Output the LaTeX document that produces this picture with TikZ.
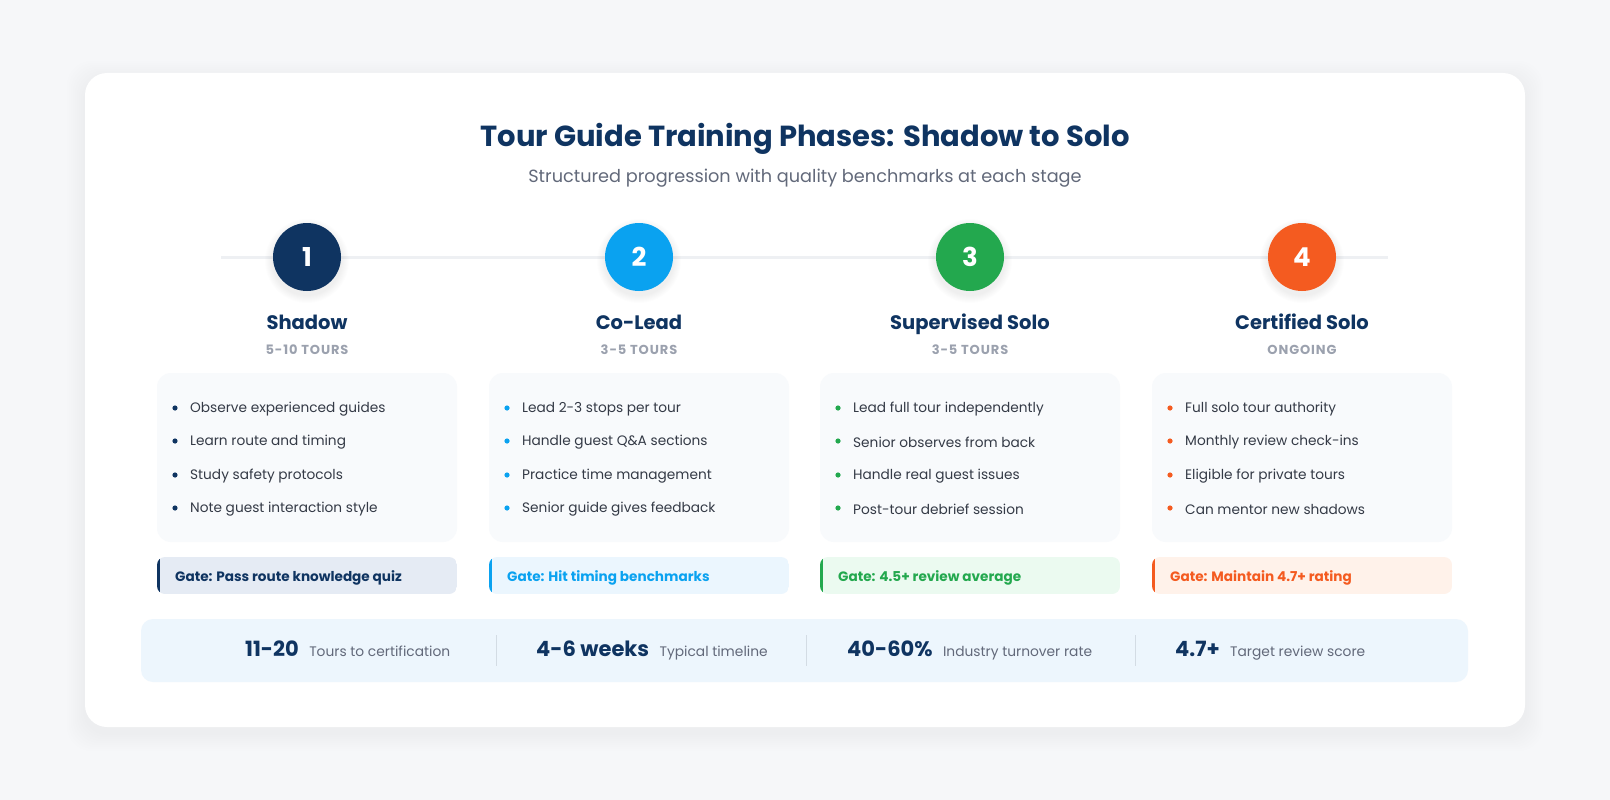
\documentclass[tikz,border=0pt]{standalone}
\usepackage{fontspec}
\setmainfont{Poppins}
\newfontfamily\trackedfont[LetterSpace=7]{Poppins}
\usetikzlibrary{positioning}

\definecolor{pagebg}{HTML}{F6F7F9}
\definecolor{navy}{HTML}{0F3461}
\definecolor{skyblue}{HTML}{0AA2F0}
\definecolor{leafgreen}{HTML}{23A84E}
\definecolor{flame}{HTML}{F45B20}
\definecolor{subgray}{HTML}{62697A}
\definecolor{tourgray}{HTML}{9BA1AE}
\definecolor{bodytext}{HTML}{343A46}
\definecolor{panelfill}{HTML}{F8FAFC}
\definecolor{statfill}{HTML}{EDF6FD}
\definecolor{rulegray}{HTML}{EEF0F3}
\definecolor{divgray}{HTML}{D3DCE4}
\definecolor{gatenavy}{HTML}{E5EBF4}
\definecolor{gateblue}{HTML}{EBF6FE}
\definecolor{gategreen}{HTML}{EBFAF0}
\definecolor{gateorange}{HTML}{FFF2EA}

\tikzset{
  phasenum/.style={circle, minimum size=68pt, inner sep=0pt, text=white,
    font=\fontsize{26}{28}\selectfont\bfseries},
  phasetitle/.style={anchor=base, text=navy, font=\fontsize{19.5}{22}\selectfont\bfseries},
  phasecount/.style={text=tourgray, font=\trackedfont\fontsize{13}{15}\selectfont\bfseries},
  panelbox/.style={fill=panelfill, rounded corners=14pt},
  itemtext/.style={anchor=west, inner sep=0pt, text=bodytext, font=\fontsize{13.7}{16}\selectfont},
  gatetext/.style={anchor=west, inner sep=0pt, font=\fontsize{13.6}{16}\selectfont\bfseries},
  statnum/.style={anchor=base west, inner sep=0pt, text=navy, font=\fontsize{21}{24}\selectfont\bfseries},
  statlabel/.style={inner sep=0pt, text=subgray, font=\fontsize{13.8}{16}\selectfont},
}

\begin{document}
\begin{tikzpicture}[x=1pt, y=-1pt]
\useasboundingbox (0,0) rectangle (1610,800);
\fill[pagebg] (0,0) rectangle (1610,800);

% card with soft shadow
\foreach \s in {2,4,...,18}
  \fill[black, opacity=0.004, rounded corners=24pt] (85-\s,79-\s) rectangle (1525+\s,733+\s);
\fill[white, rounded corners=22pt] (85,73) rectangle (1525,727);

% heading
\node[text=navy, font=\fontsize{29}{33}\selectfont\bfseries] (title) at (805,139) {Tour Guide Training Phases: Shadow to Solo};
\node[text=subgray, font=\fontsize{17.7}{21}\selectfont] (subtitle) at (805,178) {Structured progression with quality benchmarks at each stage};

% timeline rail
\coordinate (railstart) at (221,257);
\coordinate (railend) at (1388,257);
\draw[rulegray, line width=3pt] (railstart) -- (railend);

% circle shadows
\foreach \cx in {307,639,970,1302}
  \foreach \s in {1,2,...,8}
    \fill[black, opacity=0.008] (\cx,261) circle (34pt+\s pt);

% phase circles
\node[phasenum, fill=navy] (num1) at (307,257) {1};
\node[phasenum, fill=skyblue] (num2) at (639,257) {2};
\node[phasenum, fill=leafgreen] (num3) at (970,257) {3};
\node[phasenum, fill=flame] (num4) at (1302,257) {4};

% phase titles
\node[phasetitle] (name1) at (307,329) {Shadow};
\node[phasetitle] (name2) at (639,329) {Co-Lead};
\node[phasetitle] (name3) at (970,329) {Supervised Solo};
\node[phasetitle] (name4) at (1302,329) {Certified Solo};
\node[phasecount] (count1) at (307,350) {5-10 TOURS};
\node[phasecount] (count2) at (639,350) {3-5 TOURS};
\node[phasecount] (count3) at (970,350) {3-5 TOURS};
\node[phasecount] (count4) at (1302,350) {ONGOING};

% panels
\fill[panelbox] (157,373) rectangle (457,542);
\fill[panelbox] (489,373) rectangle (789,542);
\fill[panelbox] (820,373) rectangle (1120,542);
\fill[panelbox] (1152,373) rectangle (1452,542);

% phase 1 items
\fill[navy] (175,408) circle (2.6pt);
\fill[navy] (175,441) circle (2.6pt);
\fill[navy] (175,475) circle (2.6pt);
\fill[navy] (175,508) circle (2.6pt);
\node[itemtext] (p1a) at (190,409) {Observe experienced guides};
\node[itemtext] (p1b) at (190,442) {Learn route and timing};
\node[itemtext] (p1c) at (190,476) {Study safety protocols};
\node[itemtext] (p1d) at (190,509) {Note guest interaction style};

% phase 2 items
\fill[skyblue] (507,408) circle (2.6pt);
\fill[skyblue] (507,441) circle (2.6pt);
\fill[skyblue] (507,475) circle (2.6pt);
\fill[skyblue] (507,508) circle (2.6pt);
\node[itemtext] (p2a) at (522,409) {Lead 2-3 stops per tour};
\node[itemtext] (p2b) at (522,442) {Handle guest Q\&A sections};
\node[itemtext] (p2c) at (522,476) {Practice time management};
\node[itemtext] (p2d) at (522,509) {Senior guide gives feedback};

% phase 3 items
\fill[leafgreen] (838,408) circle (2.6pt);
\fill[leafgreen] (838,441) circle (2.6pt);
\fill[leafgreen] (838,475) circle (2.6pt);
\fill[leafgreen] (838,508) circle (2.6pt);
\node[itemtext] (p3a) at (853,409) {Lead full tour independently};
\node[itemtext] (p3b) at (853,442) {Senior observes from back};
\node[itemtext] (p3c) at (853,476) {Handle real guest issues};
\node[itemtext] (p3d) at (853,509) {Post-tour debrief session};

% phase 4 items
\fill[flame] (1170,408) circle (2.6pt);
\fill[flame] (1170,441) circle (2.6pt);
\fill[flame] (1170,475) circle (2.6pt);
\fill[flame] (1170,508) circle (2.6pt);
\node[itemtext] (p4a) at (1185,409) {Full solo tour authority};
\node[itemtext] (p4b) at (1185,442) {Monthly review check-ins};
\node[itemtext] (p4c) at (1185,476) {Eligible for private tours};
\node[itemtext] (p4d) at (1185,509) {Can mentor new shadows};

% gates
\begin{scope}
  \clip[rounded corners=8pt] (157,557) rectangle (457,594);
  \fill[gatenavy] (157,557) rectangle (457,594);
  \fill[navy] (157,557) rectangle (160,594);
\end{scope}
\begin{scope}
  \clip[rounded corners=8pt] (489,557) rectangle (789,594);
  \fill[gateblue] (489,557) rectangle (789,594);
  \fill[skyblue] (489,557) rectangle (492,594);
\end{scope}
\begin{scope}
  \clip[rounded corners=8pt] (820,557) rectangle (1120,594);
  \fill[gategreen] (820,557) rectangle (1120,594);
  \fill[leafgreen] (820,557) rectangle (823,594);
\end{scope}
\begin{scope}
  \clip[rounded corners=8pt] (1152,557) rectangle (1452,594);
  \fill[gateorange] (1152,557) rectangle (1452,594);
  \fill[flame] (1152,557) rectangle (1155,594);
\end{scope}
\node[gatetext, text=navy] (gate1) at (175,578) {Gate: Pass route knowledge quiz};
\node[gatetext, text=skyblue] (gate2) at (507,578) {Gate: Hit timing benchmarks};
\node[gatetext, text=leafgreen] (gate3) at (838,578) {Gate: 4.5+ review average};
\node[gatetext, text=flame] (gate4) at (1170,578) {Gate: Maintain 4.7+ rating};

% stats bar
\fill[statfill, rounded corners=12pt] (141,619) rectangle (1468,682);
\draw[divgray, line width=1pt] (496,635) -- (496,666);
\draw[divgray, line width=1pt] (806,635) -- (806,666);
\draw[divgray, line width=1pt] (1135,635) -- (1135,666);

\node[statnum] (statA) at (245,656) {11-20};
\node[statlabel, base right=10pt of statA] (labelA) {Tours to certification};
\node[statnum] (statB) at (536,656) {4-6 weeks};
\node[statlabel, base right=10pt of statB] (labelB) {Typical timeline};
\node[statnum] (statC) at (847,656) {40-60\%};
\node[statlabel, base right=10pt of statC] (labelC) {Industry turnover rate};
\node[statnum] (statD) at (1175,656) {4.7+};
\node[statlabel, base right=10pt of statD] (labelD) {Target review score};
\end{tikzpicture}
\end{document}
